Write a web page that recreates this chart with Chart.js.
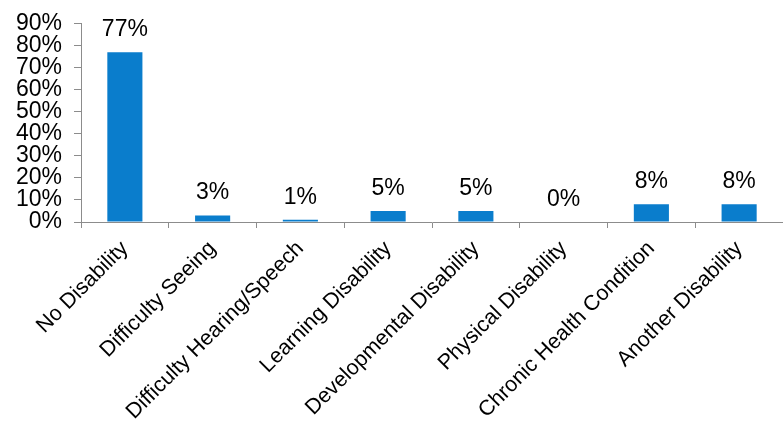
<!DOCTYPE html>
<html>
<head>
<meta charset="utf-8">
<script src="https://cdn.jsdelivr.net/npm/chart.js@4.4.0/dist/chart.umd.min.js"></script>
<style>
html,body{margin:0;padding:0;background:#fff;}
#wrap{width:783px;height:422px;}
</style>
</head>
<body>
<div id="wrap"><canvas id="c" width="783" height="422"></canvas></div>
<script>
const categories = ["No Disability","Difficulty Seeing","Difficulty Hearing/Speech","Learning Disability","Developmental Disability","Physical Disability","Chronic Health Condition","Another Disability"];
const values = [77, 3, 1, 5, 5, 0, 8, 8];
const valueLabels = ["77%","3%","1%","5%","5%","0%","8%","8%"];
const yTicks = [0,10,20,30,40,50,60,70,80,90];

const FONT = "'Liberation Sans', Arial, sans-serif";

const labelPlugin = {
  id: 'valueLabels',
  afterDatasetsDraw(chart) {
    const ctx = chart.ctx;
    const meta = chart.getDatasetMeta(0);
    ctx.save();
    ctx.font = "23px " + FONT;
    ctx.fillStyle = "#000";
    ctx.textAlign = "center";
    ctx.textBaseline = "alphabetic";
    meta.data.forEach((bar, i) => {
      ctx.fillText(valueLabels[i], bar.x, bar.y - 16);
    });
    ctx.restore();
  }
};

new Chart(document.getElementById('c'), {
  type: 'bar',
  data: {
    labels: categories,
    datasets: [{
      data: values,
      backgroundColor: '#0a7dcc',
      borderWidth: 0,
      barPercentage: 0.4,
      categoryPercentage: 1.0
    }]
  },
  options: {
    responsive: false,
    animation: false,
    devicePixelRatio: 1,
    layout: { padding: { top: 3, right: 0, left: 0, bottom: 0 } },
    plugins: { legend: { display: false }, tooltip: { enabled: false } },
    scales: {
      x: {
        grid: { display: true, drawOnChartArea: false, offset: true, color: '#8c8c8c', tickLength: 6, lineWidth: 1 },
        border: { display: true, color: '#8c8c8c', width: 1 },
        ticks: { color: '#000', font: { family: FONT, size: 21.5 }, minRotation: 45, maxRotation: 45, autoSkip: false, padding: 8 },
        afterFit(scale) { scale.height = 200; }
      },
      y: {
        min: 0, max: 90,
        afterBuildTicks(scale) { scale.ticks = yTicks.map(v => ({ value: v })); },
        grid: { display: true, drawOnChartArea: false, color: '#8c8c8c', tickLength: 7, lineWidth: 1 },
        border: { display: true, color: '#8c8c8c', width: 1 },
        ticks: { color: '#000', font: { family: FONT, size: 23, lineHeight: 1 }, padding: 12, autoSkip: false, callback: v => v + '%' },
        afterFit(scale) { scale.width = 81; }
      }
    }
  },
  plugins: [labelPlugin]
});
</script>
</body>
</html>
